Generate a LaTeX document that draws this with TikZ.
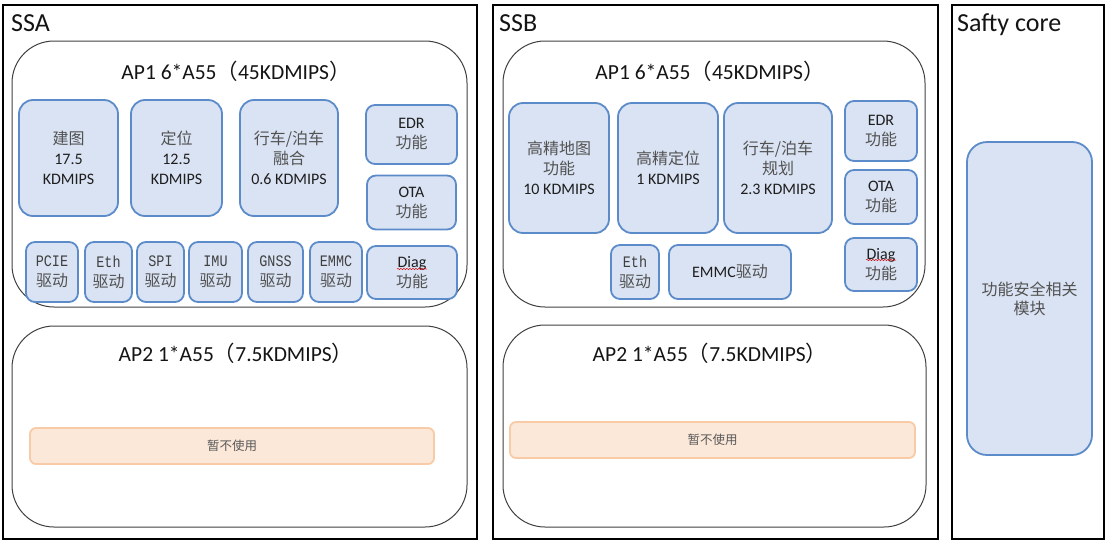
\documentclass[tikz,border=0pt]{standalone}
\usepackage{fontspec}
\setmainfont{Carlito}
\newfontfamily\cjkfont{Noto Sans CJK SC}
\newfontfamily\serifdrv[FakeStretch=0.84]{Liberation Mono}
\newcommand\zhtxt[1]{{\cjkfont\color{black!68}#1}}
\usetikzlibrary{decorations.pathmorphing}
\definecolor{bfill}{HTML}{DAE3F3}
\definecolor{bline}{HTML}{5B8BC9}
\definecolor{ofill}{HTML}{FCE8D9}
\definecolor{oline}{HTML}{F8CBA6}
\definecolor{txtgray}{HTML}{1E1E1E}
\begin{document}
\begin{tikzpicture}[x=1pt,y=-1pt,
  outerbox/.style={draw=black, line width=2pt, rectangle, inner sep=0pt},
  apbox/.style={draw=black!75, line width=1pt, rectangle, rounded corners=42pt, inner sep=0pt},
  blk/.style={draw=bline, fill=bfill, line width=1.8pt, rectangle, rounded corners=14pt, align=center,
    text=txtgray, font=\fontsize{16}{20}\selectfont, inner sep=0pt},
  sblk/.style={blk, rounded corners=9pt},
  drv/.style={sblk, font=\fontsize{16}{20}\selectfont\serifdrv, text=black!75},
  unused/.style={draw=oline, fill=ofill, line width=1.8pt, rectangle, rounded corners=6pt, inner sep=0pt,
    text=black!65, font=\fontsize{12.5}{15}\selectfont\cjkfont},
  paneltitle/.style={anchor=base west, inner sep=0pt, font=\fontsize{26}{30}\selectfont, text=black!92},
  aptitle/.style={anchor=base, inner sep=0pt, font=\fontsize{21.5}{24}\selectfont, text=black!92},
  spell/.style={draw=red!85!black, line width=0.5pt, decorate, decoration={snake, segment length=3pt, amplitude=0.6pt}}
]
\useasboundingbox (0,0) rectangle (1113,557);

% ===== SSA =====
\node[outerbox, minimum width=474pt, minimum height=534pt] (ssa) at (240,272) {};
\node[paneltitle] (ssalbl) at (11,31.5) {SSA};
\node[apbox, minimum width=455pt, minimum height=266pt] (ssaap1) at (239.5,174) {};
\node[aptitle] (ssaap1t) at (236,79.5) {AP1 6*A55{\cjkfont （}45KDMIPS{\cjkfont ）}};

\node[blk, minimum width=99pt, minimum height=116pt] (jiantu) at (68.5,158) {\zhtxt{建图}\\17.5\\KDMIPS};
\node[blk, minimum width=91pt, minimum height=116pt] (dingwei) at (176.5,158) {\zhtxt{定位}\\12.5\\KDMIPS};
\node[blk, minimum width=98pt, minimum height=116pt] (ronghe) at (289,158) {\zhtxt{行车/泊车}\\\zhtxt{融合}\\0.6 KDMIPS};
\node[sblk, minimum width=91pt, minimum height=59pt] (edra) at (411.5,134.5) {EDR\\\zhtxt{功能}};
\node[sblk, minimum width=89pt, minimum height=54pt] (otaa) at (411.5,202.5) {OTA\\\zhtxt{功能}};
\node[sblk, minimum width=90pt, minimum height=53pt] (diaga) at (412,272.5) {Diag\\\zhtxt{功能}};
\draw[spell] ([xshift=-15pt,yshift=3.5pt]diaga.center) -- ([xshift=15pt,yshift=3.5pt]diaga.center);

\node[drv, minimum width=52pt, minimum height=60pt] (pcie) at (52,272) {PCIE\\\zhtxt{驱动}};
\node[drv, minimum width=47pt, minimum height=60pt] (etha) at (108.5,272) {Eth\\\zhtxt{驱动}};
\node[drv, minimum width=47pt, minimum height=60pt] (spi) at (160.5,272) {SPI\\\zhtxt{驱动}};
\node[drv, minimum width=53pt, minimum height=60pt] (imu) at (215.5,272) {IMU\\\zhtxt{驱动}};
\node[drv, minimum width=55pt, minimum height=60pt] (gnss) at (275.5,272) {GNSS\\\zhtxt{驱动}};
\node[drv, minimum width=52pt, minimum height=60pt] (emmca) at (336,272) {EMMC\\\zhtxt{驱动}};

\node[apbox, minimum width=455pt, minimum height=201pt] (ssaap2) at (239.5,426.5) {};
\node[aptitle] (ssaap2t) at (236,361) {AP2 1*A55{\cjkfont （}7.5KDMIPS{\cjkfont ）}};
\node[unused, minimum width=404pt, minimum height=36pt] (unuseda) at (232,446) {暂不使用};

% ===== SSB =====
\node[outerbox, minimum width=445pt, minimum height=534pt] (ssb) at (715.5,272) {};
\node[paneltitle] (ssblbl) at (499,31.5) {SSB};
\node[apbox, minimum width=422pt, minimum height=266pt] (ssbap1) at (714,174) {};
\node[aptitle] (ssbap1t) at (710,79.5) {AP1 6*A55{\cjkfont （}45KDMIPS{\cjkfont ）}};

\node[blk, minimum width=100pt, minimum height=130pt] (hdmap) at (559,168) {\zhtxt{高精地图}\\\zhtxt{功能}\\10 KDMIPS};
\node[blk, minimum width=100pt, minimum height=130pt] (hdloc) at (668,168) {\zhtxt{高精定位}\\1 KDMIPS};
\node[blk, minimum width=108pt, minimum height=130pt] (plan) at (778,168) {\zhtxt{行车/泊车}\\\zhtxt{规划}\\2.3 KDMIPS};
\node[sblk, minimum width=72pt, minimum height=60pt] (edrb) at (881,131) {EDR\\\zhtxt{功能}};
\node[sblk, minimum width=72pt, minimum height=54pt] (otab) at (881,197) {OTA\\\zhtxt{功能}};
\node[sblk, minimum width=72pt, minimum height=53pt] (diagb) at (881,264.5) {Diag\\\zhtxt{功能}};
\draw[spell] ([xshift=-15pt,yshift=4.5pt]diagb.center) -- ([xshift=15pt,yshift=4.5pt]diagb.center);

\node[drv, minimum width=48pt, minimum height=54pt] (ethb) at (635,272) {Eth\\\zhtxt{驱动}};
\node[sblk, minimum width=122pt, minimum height=54pt] (emmcb) at (730,272) {EMMC\zhtxt{驱动}};

\node[apbox, minimum width=423pt, minimum height=202pt] (ssbap2) at (714.5,426) {};
\node[aptitle] (ssbap2t) at (710,361) {AP2 1*A55{\cjkfont （}7.5KDMIPS{\cjkfont ）}};
\node[unused, minimum width=405pt, minimum height=36pt] (unusedb) at (712.5,440) {暂不使用};

% ===== Safety core =====
\node[outerbox, minimum width=152pt, minimum height=534pt] (safe) at (1028,272) {};
\node[paneltitle] (safelbl) at (957,31.5) {Safty core};
\node[blk, rounded corners=20pt, minimum width=125pt, minimum height=313pt, text=black!68, font=\fontsize{16}{19}\selectfont\cjkfont] (safemod) at (1029.5,298.5) {功能安全相关\\模块};
\end{tikzpicture}
\end{document}
